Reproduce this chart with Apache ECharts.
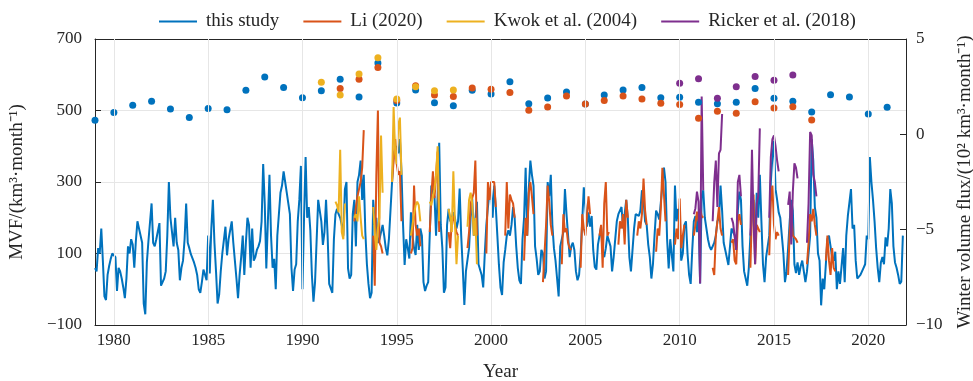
<!DOCTYPE html>
<html>
<head>
<meta charset="utf-8">
<script src="https://cdn.jsdelivr.net/npm/echarts@6/dist/echarts.min.js"></script>
<style>
  html, body { margin: 0; padding: 0; background: #fff; }
  #main { width: 973px; height: 381px; }
</style>
</head>
<body>
<div id="main"></div>
<script>
// monthly MVF of this study, Jan 1979 onwards (km3/month)
var mvf = [
  59, 50, 115, 100, 170, 80, -20, -30, 40, 65, 85, 100,
  105, 90, -5, 60, 50, 30, 5, -25, 30, 120, 100, 140,
  125, 60, 135, 190, 170, 175, 130, -40, -70, 75, 135, 130,
  240, 130, 120, 140, 135, 185, 10, 15, 30, 50, 150, 300,
  200, 160, 120, 200, 130, 110, 25, 60, 80, 140, 240, 130,
  115, 98, 95, 75, 60, 40, 0, -10, 20, 55, 50, 25,
  150, 44, 170, 250, 130, 50, -40, -15, 50, 100, 100, 175,
  95, 140, 165, 190, 130, 80, 30, -25, 40, 90, 150, 40,
  130, 200, 180, 60, 170, 80, 90, 110, 120, 135, 190, 350,
  240, 58, 190, 320, 150, 60, 85, 0, 150, 150, 270, 290,
  330, 300, 270, 240, 210, 60, -5, 55, 70, 190, 250, 345,
  0, 200, 370, 200, 230, 165, 40, -35, 20, 25, 250, 245,
  190, 124, 160, 250, 150, 15, 15, -10, 140, 210, 225, 210,
  200, 180, 150, 280, 300, 58, 30, 40, 210, 250, 120, 300,
  320, 360, 250, 320, 160, 70, 15, -25, -10, 250, 180, 200,
  130, 140, 135, 180, 150, 115, 95, 140, 145, 300, 380, 380,
  400, 380, 420, 330, 180, 68, 140, 115, 86, 215, 150, 115,
  96, 180, 110, 170, 150, 20, -5, 10, 20, 21, 290, 270,
  260, 150, 260, 410, 180, 115, -10, 5, 180, 225, 190, 200,
  215, 200, 170, 190, 282, 150, 58, -44, 50, 50, 115, 200,
  254, 150, 150, 245, 70, 68, 40, 5, 100, 180, 230, 273,
  280, 200, 290, 230, 150, 68, 5, -16, 75, 110, 150, 165,
  150, 180, 230, 200, 120, 60, 25, 15, 140, 200, 340, 150,
  280, 360, 320, 290, 120, 85, 40, 50, 110, 100, 30, 50,
  300, 260, 320, 180, 115, 80, 30, -20, 120, 140, 160, 280,
  210, 150, 90, 120, 130, 110, 50, 25, 40, 100, 190, 285,
  230, 175, 215, 175, 205, 110, 62, 55, 125, 150, 175, 100,
  90, 115, 150, 150, 120, 50, 90, 140, 190, 210, 215, 230,
  170, 210, 250, 200, 90, 50, 110, 170, 210, 215, 205, 220,
  277, 250, 190, 180, 125, 90, 30, 70, 150, 220, 210, 195,
  190, 290, 340, 300, 140, 58, 140, 95, 50, 290, 190, 225,
  170, 80, 100, 180, 190, 100, 40, 15, 110, 190, 205, 160,
  215, 16, 260, 277, 200, 170, 140, 120, 110, 115, 130, 150,
  190, 200, 290, 220, 130, 110, 105, 68, 65, 170, 170, 150,
  110, 220, 273, 250, 120, 50, 30, 10, 60, 150, 210, 250,
  115, 270, 200, 320, 190, 70, 20, 90, 120, 150, 300, 370,
  415, 280, 250, 215, 200, 150, 100, 20, 50, 115, 190, 250,
  220, 70, 45, 75, 40, 65, 80, 50, 20, 50, 45, 150,
  420, 360, 230, 200, 100, 80, -45, 30, 0, 70, 140, 150,
  120, 90, 80, 105, 0, 50, 15, 20, 115, 20, 150, 205,
  205, 280, 170, 180, 80, 30, 30, 40, 45, 60, 70, 150,
  140, 370, 300, 250, 190, 115, 60, 20, 75, 90, 70, 145,
  120, 170, 280, 240, 120, 75, 60, 40, 15, 21, 150
];

// winter (Oct..Apr) monthly MVF of the other studies, keyed by the winter's start year
var liYears = [1992, 1993, 1994, 1995, 1996, 1997, 1998, 1999, 2000, 2001, 2002, 2003, 2004,
               2005, 2006, 2007, 2008, 2009, 2010, 2011, 2012, 2013, 2014, 2015, 2016, 2017];
var liMonthly = [
  [190, 230, 260, 280, 300, 340, 445],
  [150, 10, 320, 500, 130, 120, 100],
  [300, 360, 420, 350, 320, 330, 190],
  [100, 115, 290, 180, 150, 170, 120],
  [160, 260, 330, 255, 320, 385, 160],
  [160, 115, 190, 205, 180, 160, 150],
  [115, 160, 240, 255, 270, 360, 150],
  [100, 300, 250, 300, 300, 300, 230],
  [150, 300, 170, 265, 250, 240, 200],
  [80, 200, 150, 270, 300, 260, 210],
  [20, 25, 180, 290, 245, 180, 150],
  [70, 210, 160, 170, 130, 115, 110],
  [60, 210, 170, 150, 205, 260, 210],
  [150, 180, 60, 240, 300, 150, 160],
  [125, 190, 170, 210, 125, 250, 200],
  [150, 190, 170, 210, 310, 220, 180],
  [105, 170, 150, 225, 340, 265, 190],
  [125, 170, 140, 254, 115, 150, 180],
  [150, 180, 217, 190, 225, 205, 200],
  [60, 40, 150, 190, 230, 170, 150],
  [130, 140, 80, 70, 190, 210, 180],
  [60, 220, 265, 70, 180, 170, 160],
  [95, 245, 290, 180, 140, 160, 150],
  [40, 160, 220, 150, 150, 140, 130],
  [70, 130, 210, 190, 225, 180, 150],
  [80, 150, 80, 40, 115, 60, 50]
];
var kwokYears = [1991, 1992, 1993, 1994, 1995, 1996, 1997, 1998];
var kwokMonthly = [
  [245, 235, 215, 390, 160, 140, 240],
  [200, 210, 190, 260, 200, 150, 140],
  [230, 160, 110, 170, 200, 430, 270],
  [300, 510, 380, 350, 460, 480, 320],
  [150, 180, 210, 235, 245, 235, 190],
  [245, 235, 260, 280, 320, 400, 190],
  [225, 200, 160, 330, 190, 70, 150],
  [175, 250, 270, 240, 150, 200, 70]
];
var rickerYears = [2010, 2011, 2012, 2013, 2014, 2015, 2016];
var rickerMonthly = [
  [210, 226, 273, 245, 16, 539, 277],
  [190, 300, 360, 230, 380, 390, 490],
  [200, 185, 180, 110, 300, 320, 260],
  [150, 390, 190, 70, 240, 260, 450],
  [200, 370, 420, 430, 400, 360, 330],
  [236, 273, 125, 273, 352, 340, 310],
  [130, 240, 440, 430, 320, 300, 260]
];

// winter volume flux (10^2 km3/month), right axis
var winterThis = [0.74, 1.14, 1.52, 1.73, 1.33, 0.88, 1.35, 1.29, 2.31, 3.01, 2.45, 1.92, 2.29,
                  2.89, 1.96, 3.74, 1.64, 2.33, 1.66, 1.50, 2.31, 2.12, 2.76, 1.61, 1.91, 2.22,
                  1.59, 2.06, 2.33, 2.45, 1.92, 1.94, 1.68, 1.61, 1.68, 2.40, 1.89, 1.73, 1.17,
                  2.08, 1.96, 1.07, 1.42];
var winterLi = [2.41, 2.89, 3.51, 1.77, 2.55, 2.06, 1.99, 2.43, 2.36, 2.19, 1.26, 1.43, 2.01,
                1.59, 1.78, 2.01, 1.85, 1.63, 1.57, 0.84, 1.21, 1.10, 1.71, 1.38, 1.45, 0.75];
var winterKwok = [2.73, 2.06, 3.17, 4.02, 1.85, 2.50, 2.29, 2.33];
var winterRicker = [2.68, 2.92, 1.89, 2.50, 3.03, 2.83, 3.11];

var yearTicks = [1980, 1985, 1990, 1995, 2000, 2005, 2010, 2015, 2020];
var firstYear = 1979;

function monthTime(k) { return firstYear + k / 12; }

function winterSeries(years, monthly) {
  var out = [];
  years.forEach(function (y, i) {
    var k0 = (y - firstYear) * 12 + 9; // October
    monthly[i].forEach(function (v, j) { out.push([monthTime(k0 + j), v]); });
    out.push([monthTime(k0 + 7), '-']);
  });
  return out;
}
function dots(startYear, vals) {
  return vals.map(function (v, i) { return [startYear + i, v]; });
}
function minus(v) { return v < 0 ? '\u2212' + Math.abs(v) : String(v); }

var colors = { blue: '#0072BD', orange: '#D95319', yellow: '#EDB120', purple: '#7E2F8E' };
var font = 'Liberation Serif';
var ink = '#262626';
var gridColor = '#e6e6e6';
var tickFont = 17, nameFont = 19;

var chart = echarts.init(document.getElementById('main'));

var lineSeries = function (name, data, color, width) {
  return {
    name: name, type: 'line', data: data, symbol: 'none', showSymbol: false,
    xAxisIndex: 0, yAxisIndex: 0, connectNulls: false, z: 2,
    lineStyle: { color: color, width: width }, itemStyle: { color: color },
    emphasis: { disabled: true }
  };
};
var dotSeries = function (name, data, color) {
  return {
    name: name, type: 'scatter', data: data, symbol: 'circle', symbolSize: 7,
    xAxisIndex: 0, yAxisIndex: 1, itemStyle: { color: color, opacity: 1 }, z: 3
  };
};

var option = {
  animation: false,
  textStyle: { fontFamily: font, color: ink },
  legend: {
    data: ['this study', 'Li (2020)', 'Kwok et al. (2004)', 'Ricker et al. (2018)'],
    top: 7, left: 154, icon: 'rect', itemWidth: 38, itemHeight: 2, itemGap: 24,
    textStyle: { fontFamily: font, fontSize: nameFont, color: ink, padding: [0, 0, 0, 4] }
  },
  grid: { left: 95, right: 67, top: 39, bottom: 56, outerBoundsMode: 'none', containLabel: false },
  xAxis: [{
    type: 'value', min: 1979, max: 2022, position: 'bottom',
    name: 'Year', nameLocation: 'middle', nameGap: 38,
    nameTextStyle: { fontFamily: font, fontSize: nameFont, color: ink },
    axisLine: { show: true, onZero: false, lineStyle: { color: ink, width: 1 } },
    axisTick: { show: true, inside: true, length: 6, customValues: yearTicks, lineStyle: { color: ink } },
    axisLabel: { customValues: yearTicks, fontFamily: font, fontSize: tickFont, color: ink, margin: 7,
      formatter: function (v) { return String(v); } },
    splitLine: { show: false }
  }, {
    type: 'value', min: 1979, max: 2022, position: 'top',
    axisLine: { show: true, onZero: false, lineStyle: { color: ink, width: 1 } },
    axisTick: { show: true, inside: true, length: 6, customValues: yearTicks, lineStyle: { color: ink } },
    axisLabel: { show: false },
    splitLine: { show: false }
  }],
  yAxis: [{
    type: 'value', min: -100, max: 700, interval: 200, position: 'left',
    name: 'MVF/(km\u00b3\u00b7month\u207b\u00b9)', nameLocation: 'middle', nameGap: 68, nameRotate: 90,
    nameTextStyle: { fontFamily: font, fontSize: nameFont, color: ink },
    axisLine: { show: true, onZero: false, lineStyle: { color: ink, width: 1 } },
    axisTick: { show: true, inside: true, length: 6, lineStyle: { color: ink } },
    axisLabel: { fontFamily: font, fontSize: tickFont, color: ink, margin: 13, formatter: minus },
    splitLine: { show: true, lineStyle: { color: gridColor, width: 1 } }
  }, {
    type: 'value', min: -10, max: 5, interval: 5, position: 'right',
    name: 'Winter volume flux/(10\u00b2 km\u00b3\u00b7month\u207b\u00b9)', nameLocation: 'middle', nameGap: 50, nameRotate: 90,
    nameTextStyle: { fontFamily: font, fontSize: nameFont, color: ink },
    axisLine: { show: true, onZero: false, lineStyle: { color: ink, width: 1 } },
    axisTick: { show: true, inside: true, length: 6, lineStyle: { color: ink } },
    axisLabel: { fontFamily: font, fontSize: tickFont, color: ink, margin: 10, formatter: minus },
    splitLine: { show: false }
  }],
  series: [
    {
      name: 'year grid', type: 'line', data: [], z: 1, silent: true,
      markLine: {
        silent: true, symbol: 'none', label: { show: false },
        lineStyle: { color: gridColor, width: 1, type: 'solid' },
        data: yearTicks.map(function (y) { return { xAxis: y }; })
      }
    },
    lineSeries('this study', mvf.map(function (v, k) { return [monthTime(k), v]; }), colors.blue, 2),
    lineSeries('Li (2020)', winterSeries(liYears, liMonthly), colors.orange, 2),
    lineSeries('Kwok et al. (2004)', winterSeries(kwokYears, kwokMonthly), colors.yellow, 2),
    lineSeries('Ricker et al. (2018)', winterSeries(rickerYears, rickerMonthly), colors.purple, 2),
    dotSeries('winter this study', dots(1979, winterThis), colors.blue),
    dotSeries('winter Li', dots(liYears[0], winterLi), colors.orange),
    dotSeries('winter Kwok', dots(kwokYears[0], winterKwok), colors.yellow),
    dotSeries('winter Ricker', dots(rickerYears[0], winterRicker), colors.purple)
  ]
};

option && chart.setOption(option);
</script>
</body>
</html>
